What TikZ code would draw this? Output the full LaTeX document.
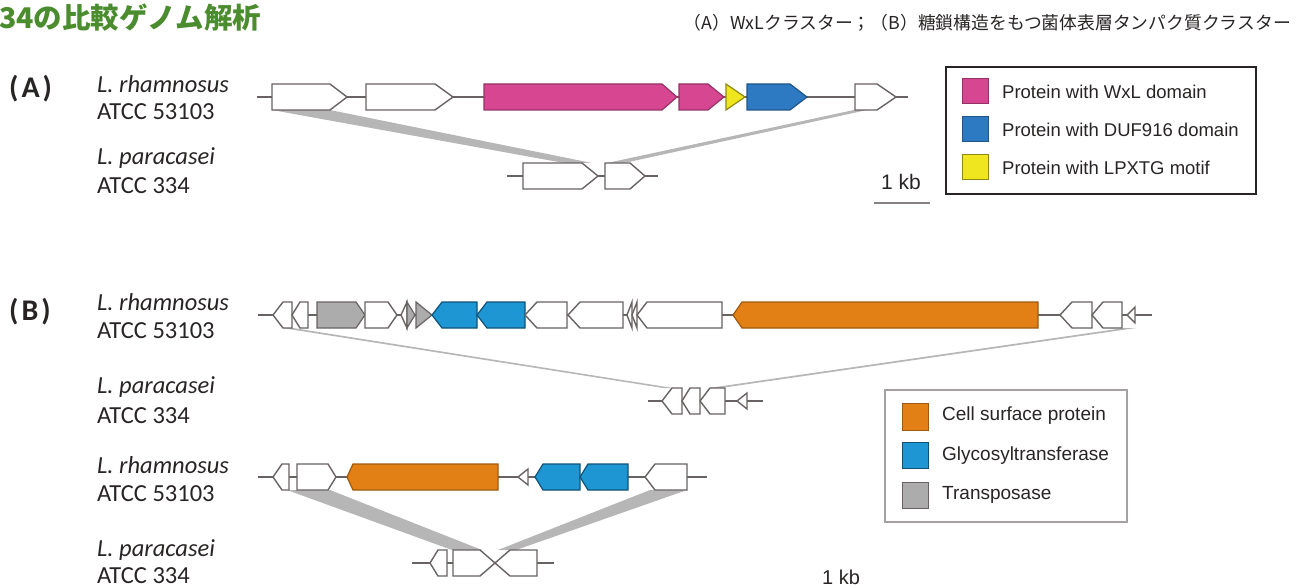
\documentclass[tikz,border=0pt]{standalone}
\usepackage{fontspec}
\setmainfont{Carlito}
\newfontfamily\cjk{Noto Sans CJK JP}
\newfontfamily\arl{Liberation Sans}
\definecolor{ttlgreen}{RGB}{74,140,46}
\definecolor{pinkc}{RGB}{214,70,145}
\definecolor{blueA}{RGB}{46,122,194}
\definecolor{yelc}{RGB}{240,230,30}
\definecolor{blueB}{RGB}{30,150,212}
\definecolor{orgc}{RGB}{226,128,22}
\definecolor{grayc}{RGB}{172,172,172}
\definecolor{bandc}{RGB}{182,182,182}
\definecolor{outl}{RGB}{105,98,98}
\definecolor{txtc}{RGB}{40,36,36}
\tikzset{
  wg/.style={draw=outl,fill=white,line width=1.4pt,line join=miter},
  pg/.style={draw=pinkc!70!black,fill=pinkc,line width=1.2pt},
  bag/.style={draw=blueA!70!black,fill=blueA,line width=1.2pt},
  yg/.style={draw=yelc!60!black,fill=yelc,line width=1.2pt},
  bbg/.style={draw=blueB!55!black,fill=blueB,line width=1.2pt},
  og/.style={draw=orgc!70!black,fill=orgc,line width=1.2pt},
  gg/.style={draw=outl,fill=grayc,line width=1.2pt},
  bb/.style={draw=outl,line width=1.4pt},
  band/.style={fill=bandc,draw=none},
  lab/.style={anchor=west,text=txtc,font=\fontsize{24.5}{27}\selectfont,inner sep=0pt},
  plab/.style={anchor=west,inner sep=0pt,text=txtc,font=\bfseries\fontsize{30}{32}\selectfont},
  legA/.style={anchor=west,text=txtc,font=\arl\fontsize{18.5}{21}\selectfont,inner sep=0pt},
  legB/.style={anchor=west,text=txtc,font=\arl\fontsize{19}{21}\selectfont,inner sep=0pt},
  sw/.style={line width=1pt},
}
% right-pointing gene: style, start, shoulder, tip, ycenter
\newcommand\genR[5]{\draw[#1] (#2,#5-13) -- (#3,#5-13) -- (#4,#5) -- (#3,#5+13) -- (#2,#5+13) -- cycle;}
% left-pointing gene: style, tip, shoulder, end, ycenter
\newcommand\genL[5]{\draw[#1] (#2,#5) -- (#3,#5-13) -- (#4,#5-13) -- (#4,#5+13) -- (#3,#5+13) -- cycle;}
\begin{document}
\begin{tikzpicture}[x=1pt,y=-1pt]
\useasboundingbox (0,0) rectangle (1307,588);
% titles
\node[anchor=west,inner sep=0pt,text=ttlgreen,font=\cjk\bfseries\fontsize{28.5}{32}\selectfont] (ttl) at (-1,18) {34の比較ゲノム解析};
\node[anchor=east,inner sep=0pt,text=txtc,font=\cjk\fontsize{17.8}{20}\selectfont] (sub) at (1291,23) {（A）WxLクラスター；（B）糖鎖構造をもつ菌体表層タンパク質クラスター};
% panel labels
\node[plab] (pA) at (9,89) {(\kern3pt A\kern3pt)};
\node[plab] (pB) at (9,312) {(\kern3pt B\kern3pt)};
\node[lab] (a1) at (97,84) {\itshape L. rhamnosus};
\node[lab] (a2) at (97,112) {ATCC 53103};
\node[lab] (a3) at (97,158) {\itshape L. paracasei};
\node[lab] (a4) at (97,186) {ATCC 334};
\node[lab] (b1) at (97,302) {\itshape L. rhamnosus};
\node[lab] (b2) at (97,331) {ATCC 53103};
\node[lab] (b3) at (97,387) {\itshape L. paracasei};
\node[lab] (b4) at (97,416) {ATCC 334};
\node[lab] (b5) at (97,465) {\itshape L. rhamnosus};
\node[lab] (b6) at (97,494) {ATCC 53103};
\node[lab] (b7) at (97,550) {\itshape L. paracasei};
\node[lab] (b8) at (97,576) {ATCC 334};
% ---------- Panel A ----------
\fill[band] (272,110) -- (330,110) -- (592,163) -- (564,163) -- cycle;
\fill[band] (854,110) -- (867,110) -- (624,163) -- (607,163) -- cycle;
\draw[bb] (257,97) -- (908,97);
\genR{wg}{272}{330}{347}{97}
\genR{wg}{366}{435}{453}{97}
\genR{pg}{484}{662}{677}{97}
\genR{pg}{679}{708}{724}{97}
\genR{yg}{726}{726}{745}{97}
\genR{bag}{747}{790}{807}{97}
\genR{wg}{855}{877}{896}{97}
\draw[bb] (507,176) -- (658,176);
\genR{wg}{523}{582}{598}{176}
\genR{wg}{605}{630}{645}{176}
\node[inner sep=0pt,text=txtc,font=\arl\fontsize{21}{24}\selectfont] (kbA) at (901,182) {1 kb};
\draw[draw=outl!80,line width=2pt] (874,203) -- (930,203);
% legend A
\draw[draw=txtc,line width=1.2pt] (946,67) rectangle (1256,194);
\draw[sw,draw=pinkc!70!black,fill=pinkc] (962,79) rectangle (988,104);
\draw[sw,draw=blueA!70!black,fill=blueA] (962,117) rectangle (988,142);
\draw[sw,draw=yelc!60!black,fill=yelc] (962,155) rectangle (988,180);
\node[legA] (la1) at (1002,92) {Protein with WxL domain};
\node[legA] (la2) at (1002,130) {Protein with DUF916 domain};
\node[legA] (la3) at (1002,168) {Protein with LPXTG motif};
% ---------- Panel B, first cluster ----------
\fill[band] (282,328) -- (293,328) -- (673,388) -- (663,388) -- cycle;
\fill[band] (1124,328) -- (1136,328) -- (721,388) -- (709,388) -- cycle;
\draw[bb] (258,315) -- (1152,315);
\genL{wg}{273}{283}{292}{315}
\genL{wg}{292}{300}{308}{315}
\genR{gg}{317}{356}{365}{315}
\genR{wg}{365}{388}{397}{315}
\genL{wg}{401}{407}{407}{315}
\genR{gg}{407}{407}{415}{315}
\genR{gg}{416}{416}{432}{315}
\genL{bbg}{432}{442}{477}{315}
\genL{bbg}{477}{487}{525}{315}
\genL{wg}{525}{537}{567}{315}
\genL{wg}{568}{580}{623}{315}
\genL{wg}{627}{632}{632}{315}
\genL{wg}{632}{637}{637}{315}
\genL{wg}{637}{647}{722}{315}
\genL{og}{733}{742}{1038}{315}
\genL{wg}{1060}{1072}{1092}{315}
\genL{wg}{1092}{1103}{1122}{315}
\draw[wg] (1127,315) -- (1135,307) -- (1135,323) -- cycle;
\draw[bb] (648,401) -- (763,401);
\genL{wg}{662}{672}{682}{401}
\genL{wg}{682}{690}{700}{401}
\genL{wg}{700}{710}{725}{401}
\draw[wg] (737,401) -- (747,393) -- (747,409) -- cycle;
% legend B
\draw[draw=outl!60,line width=1.2pt] (885,390) rectangle (1127,522);
\draw[sw,draw=orgc!70!black,fill=orgc] (902,403) rectangle (928,430);
\draw[sw,draw=blueB!55!black,fill=blueB] (902,442) rectangle (928,468);
\draw[sw,draw=outl,fill=grayc] (902,482) rectangle (928,508);
\node[legB] (lb1) at (942,416) {Cell surface protein};
\node[legB] (lb2) at (942,456) {Glycosyltransferase};
\node[legB] (lb3) at (942,495) {Transposase};
% ---------- Panel B, second cluster ----------
\fill[band] (287,490) -- (330,490) -- (482,550) -- (452,550) -- cycle;
\fill[band] (650,490) -- (687,490) -- (516,550) -- (498,550) -- cycle;
\draw[bb] (258,477) -- (707,477);
\genL{wg}{273}{282}{289}{477}
\genR{wg}{297}{328}{336}{477}
\genL{og}{347}{353}{498}{477}
\draw[wg] (518,477) -- (528,469) -- (528,485) -- cycle;
\genL{bbg}{535}{543}{580}{477}
\genL{bbg}{580}{588}{628}{477}
\genL{wg}{645}{655}{687}{477}
\draw[bb] (412,563) -- (554,563);
\genL{wg}{430}{438}{447}{563}
\genR{wg}{453}{480}{495}{563}
\genL{wg}{495}{510}{537}{563}
\node[inner sep=0pt,text=txtc,font=\arl\fontsize{20}{22}\selectfont] (kbB) at (841,577) {1 kb};
\end{tikzpicture}
\end{document}
